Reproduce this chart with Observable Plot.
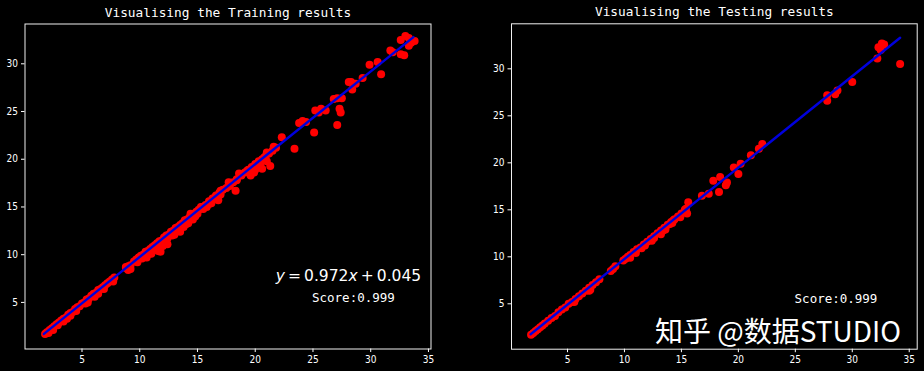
<!DOCTYPE html>
<html>
<head>
<meta charset="utf-8">
<script src="https://cdn.jsdelivr.net/npm/d3@7"></script>
<script src="https://cdn.jsdelivr.net/npm/@observablehq/plot@0.6"></script>
<style>
  html, body { margin: 0; padding: 0; background: #000; }
  #wrap { position: relative; width: 924px; height: 371px; background: #000; overflow: hidden; }
  #wrap svg { position: absolute; top: 0; overflow: visible; }
  #wm { position: absolute; left: 655px; top: 314px; font: 28px/32px "Noto Sans CJK SC", sans-serif; color: #fff; white-space: nowrap; }
</style>
</head>
<body>
<div id="wrap"><div id="wm">知乎 @数据STUDIO</div></div>
<script>
// ---- data ----
const titles = ["Visualising the Training results", "Visualising the Testing results"];
const xTicks = [5, 10, 15, 20, 25, 30, 35];
const yTicks = [5, 10, 15, 20, 25, 30];
const equation = "y = 0.972x + 0.045";
const scoreText = ["Score:0.999", "Score:0.999"];

const trainX = [1.8,1.9,2.0,2.2,2.4,2.6,2.8,3.0,3.2,3.4,3.6,3.8,4.0,4.2,4.4,4.6,4.8,5.0,5.2,5.4,5.6,5.8,6.0,6.2,6.4,6.6,6.8,7.0,7.2,7.4,7.6,7.8,
  8.8,9.0,9.2,9.5,9.7,9.9,10.1,10.3,10.5,10.7,10.9,11.1,11.3,11.5,11.7,11.9,12.1,12.3,12.5,12.7,12.9,13.1,13.3,13.5,13.7,13.9,14.1,14.3,14.5,14.7,14.9,15.1,15.4,15.7,16.0,16.3,16.6,16.9,17.2,17.5,
  18.1,18.4,18.8,19.1,19.4,19.7,20.0,20.3,20.6,20.9,21.2,21.5,21.8,
  33.0,32.6,33.3,33.8,33.5,32.6,32.9,33.3,31.7,31.9,
  29.9,30.6,30.9,28.1,28.4,28.7,29.3,28.3,
  26.8,27.1,27.5,27.3,27.4,27.1,25.2,25.7,26.1,25.5,25.1,23.8,24.1,24.4,22.3,23.4,
  21.6,21.0,21.3,20.8,20.5,20.2,19.6,19.9,19.3,18.6,18.3,18.4,20.6,20.0,19.5,21.0,
  17.7,17.0,16.8,15.8,15.3,14.4,14.1,13.2,12.4,11.6,10.6,10.1,8.8,9.0,9.2,
  11.8,12.4,12.0,13.0,13.5,13.8,14.2,14.6,15.0,16.0,16.5,6.4,5.5,4.0,3.4,2.5,10.5,11.0,11.2,
  2.1,2.9,3.7,4.5,5.3,6.1,6.9,7.7,9.8,10.2,10.8,11.4,12.2,12.8,13.4,14.0,14.8,15.5,16.2,17.0,17.8];
const trainY = [1.7,1.8,1.9,2.1,2.3,2.5,2.7,2.9,3.1,3.3,3.4,3.7,3.9,4.0,4.3,4.5,4.6,4.9,5.0,5.3,5.4,5.7,5.9,6.0,6.3,6.4,6.6,6.8,7.0,7.2,7.4,7.6,
  8.6,8.8,8.9,9.3,9.5,9.7,9.8,10.0,10.3,10.4,10.6,10.8,11.0,11.2,11.4,11.5,11.8,12.0,12.1,12.4,12.5,12.8,12.9,13.1,13.3,13.6,13.7,13.9,14.1,14.3,14.5,14.7,15.0,15.2,15.6,15.9,16.2,16.5,16.8,17.0,
  17.6,17.9,18.3,18.6,18.9,19.2,19.5,19.8,20.0,20.3,20.6,20.9,21.2,
  32.9,32.5,32.7,32.4,32.2,31.0,30.9,31.9,31.4,31.2,
  29.9,30.2,28.9,28.1,27.3,27.9,28.5,28.1,
  26.3,26.4,26.4,25.3,24.9,23.6,25.1,25.3,25.1,24.9,22.8,23.8,24.0,23.9,22.3,21.1,
  21.3,20.7,19.3,20.2,19.7,19.2,18.3,18.6,18.8,18.5,16.7,17.8,19.0,18.9,18.7,19.8,
  17.6,16.7,15.7,15.0,15.0,14.3,13.6,12.5,11.7,10.4,9.7,9.9,8.7,8.4,8.5,
  10.3,11.1,10.9,12.1,12.4,12.9,13.3,13.7,14.3,15.3,16.0,5.9,5.0,3.6,3.0,2.1,9.8,10.1,10.5,
  1.8,2.6,3.3,4.1,4.9,5.6,6.4,7.2,9.2,9.6,10.1,10.7,11.4,12.0,12.6,13.2,14.0,14.8,15.4,16.3,17.2];

const testX = [1.8,2.0,2.2,2.4,2.6,2.8,3.0,3.3,3.6,3.9,4.2,4.5,4.8,5.1,5.4,5.7,6.0,6.3,6.6,6.9,7.2,7.5,7.8,
  8.8,9.0,9.2,9.9,10.1,10.3,10.5,10.8,11.1,11.4,11.7,12.0,12.3,12.6,12.9,13.2,13.5,13.8,14.1,14.4,14.7,15.0,15.3,
  32.3,32.6,32.8,32.5,32.2,34.2,30.0,28.7,28.5,27.8,27.8,
  22.1,21.8,21.1,20.2,20.0,19.6,19.0,18.9,18.4,18.3,17.8,17.4,16.8,
  15.6,15.5,15.4,6.9,5.6,12.4,13.2,14.0,14.3,10.5,11.5,7.0,13.6,
  11.0,11.8,12.6,13.4,14.2,14.9];
const testY = [1.7,1.9,2.1,2.3,2.5,2.7,2.9,3.2,3.5,3.7,4.1,4.4,4.6,5.0,5.2,5.5,5.8,6.1,6.4,6.7,7.0,7.3,7.6,
  8.5,8.7,9.0,9.6,9.8,10.0,10.2,10.5,10.8,11.0,11.3,11.6,11.9,12.2,12.5,12.8,13.1,13.4,13.7,14.0,14.3,14.6,15.0,
  32.3,32.7,32.6,32.0,31.1,30.5,28.6,27.7,27.3,27.2,26.6,
  22.0,21.5,20.8,19.9,18.8,19.5,17.9,17.6,18.5,16.9,18.1,16.7,16.5,
  15.8,14.6,15.1,6.4,5.2,11.7,12.4,13.5,13.9,9.9,10.9,6.5,12.9,
  10.4,11.2,12.0,12.8,13.6,14.2];

const trainLineX = [1.7, 33.7];
const trainLineY = [1.70, 32.8];
const testLineX = [1.76, 34.2];
const testLineY = [1.76, 33.3];

// ---- build ----
const tickFont = '"Liberation Sans Narrow", "DejaVu Sans Condensed", "Liberation Sans", sans-serif';
const monoFont = '"DejaVu Sans Mono", "Liberation Mono", monospace';

function panel(opts) {
  const pts = opts.xs.map((x, i) => ({x, y: opts.ys[i]}));
  const line = opts.lx.map((x, i) => ({x, y: opts.ly[i]}));
  const marks = [
    Plot.frame({stroke: "#f0f0f0", strokeWidth: 1}),
    Plot.axisX({ticks: xTicks, tickSize: 3.5, tickPadding: 3, stroke: "#fff", fill: "#fff", fontSize: 10, fontFamily: tickFont, label: null}),
    Plot.axisY({ticks: yTicks, tickSize: 3.5, tickPadding: 3.5, stroke: "#fff", fill: "#fff", fontSize: 10, fontFamily: tickFont, label: null}),
    Plot.dot(pts, {x: "x", y: "y", r: 4, fill: "#ff0000", stroke: "none"}),
    Plot.line(line, {x: "x", y: "y", stroke: "#0000dd", strokeWidth: 2.4}),
    Plot.text([opts.title], {text: d => d, frameAnchor: "top", lineAnchor: "middle", dy: -11.5, fill: "#fff", fontSize: 12.8, fontFamily: monoFont}),
    Plot.text([opts.score], {text: d => d, x: () => opts.scorePos[0], y: () => opts.scorePos[1], fill: "#fff", fontSize: 12.5, fontFamily: monoFont})
  ];
  if (opts.eq) {
    marks.push(Plot.text([opts.eq], {text: d => d, x: () => opts.eqPos[0], y: () => opts.eqPos[1], fill: "#fff", fontSize: 15.5, fontFamily: '"DejaVu Sans", sans-serif'}));
  }
  const svg = Plot.plot({
    width: opts.width, height: 371,
    marginLeft: opts.ml, marginRight: opts.mr, marginTop: opts.mt, marginBottom: opts.mb,
    x: {domain: opts.xd},
    y: {domain: opts.yd},
    style: {background: "#000", color: "#fff", overflow: "visible"},
    marks
  });
  svg.style.left = opts.left + "px";
  return svg;
}

const wrap = document.getElementById("wrap");
const left = panel({
  xs: trainX, ys: trainY, lx: trainLineX, ly: trainLineY,
  title: titles[0], score: scoreText[0], scorePos: [28.5, 5.42],
  eq: equation, eqPos: [28.07, 7.72],
  width: 460, left: 0, ml: 24.5, mr: 29.5, mt: 23.5, mb: 22.5,
  xd: [0.065, 35.22], yd: [0.12, 34.17]
});
const right = panel({
  xs: testX, ys: testY, lx: testLineX, ly: testLineY,
  title: titles[1], score: scoreText[1], scorePos: [28.57, 5.56],
  width: 464, left: 460, ml: 51, mr: 7.3, mt: 23.3, mb: 22.3,
  xd: [0.083, 35.70], yd: [0.17, 34.79]
});
wrap.insertBefore(left, wrap.firstChild);
wrap.insertBefore(right, document.getElementById("wm"));

// italic math variables in the equation, thin spaces like mathtext
left.querySelectorAll("text").forEach(t => {
  if (t.textContent === equation) {
    const parts = [["y", true], ["\u2009=\u20090.972", false], ["x", true], ["\u2009+\u20090.045", false]];
    while (t.firstChild) t.removeChild(t.firstChild);
    for (const [s, it] of parts) {
      const sp = document.createElementNS("http://www.w3.org/2000/svg", "tspan");
      sp.textContent = s;
      if (it) sp.setAttribute("font-style", "italic");
      t.appendChild(sp);
    }
  }
});
</script>
</body>
</html>
